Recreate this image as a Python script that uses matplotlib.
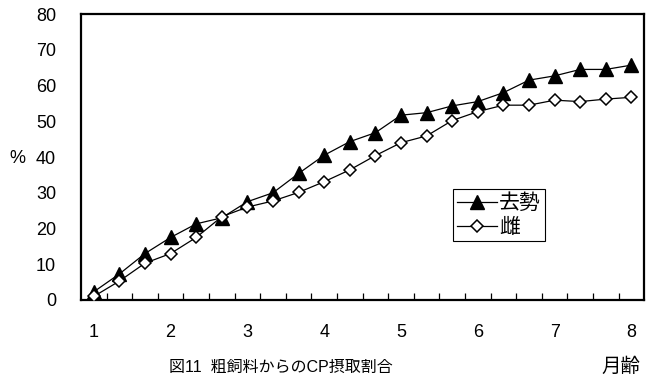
import numpy as np
import matplotlib
matplotlib.use("Agg")
import matplotlib.pyplot as plt

plt.rcParams['font.family'] = ['Liberation Sans', 'Noto Sans CJK JP']

# 月齢 (1/3ヶ月ごと)
meses = ["1", "", "", "2", "", "", "3", "", "", "4", "", "", "5", "", "", "6", "", "", "7", "", "", "8"]
kyosei = [2.3, 7.3, 13.0, 17.5, 21.3, 23.0, 27.5, 30.0, 35.4, 40.5, 44.3, 46.8,
          51.7, 52.4, 54.3, 55.5, 58.0, 61.5, 62.7, 64.5, 64.5, 65.7]
mesu = [1.0, 5.3, 10.3, 13.0, 17.5, 23.3, 26.0, 27.7, 30.1, 33.1, 36.4, 40.4,
        44.0, 45.9, 50.2, 52.7, 54.5, 54.5, 55.9, 55.5, 56.2, 56.7]

x = np.arange(len(meses))

fig = plt.figure(figsize=(6.56, 3.86), dpi=100)
ax = fig.add_axes([0.1235, 0.2228, 0.8585, 0.7409])

ax.plot(x, kyosei, color="black", lw=0.9, marker="^", ms=9.5,
        markerfacecolor="black", markeredgecolor="black", label="去勢", zorder=3)
ax.plot(x, mesu, color="black", lw=0.9, marker="D", ms=6,
        markerfacecolor="white", markeredgecolor="black", markeredgewidth=1.1,
        label="雌", zorder=4)

ax.set_xlim(-0.5, len(meses) - 0.5)
ax.set_ylim(0, 80)
ax.set_yticks(np.arange(0, 81, 10))
ax.tick_params(axis="y", length=0, pad=18, labelsize=13)

ax.set_xticks(x[::3])
ax.set_xticklabels([m for m in meses if m])
ax.set_xticks(np.arange(0.5, len(meses) - 1, 1), minor=True)
ax.tick_params(axis="x", which="major", length=0, pad=17, labelsize=13)
ax.tick_params(axis="x", which="minor", direction="in", length=5, width=0.9)

for s in ax.spines.values():
    s.set_linewidth(1.6)

leg = ax.legend(loc="upper left", bbox_to_anchor=(0.661, 0.388), fontsize=15,
                frameon=True, fancybox=False, edgecolor="black", framealpha=1,
                handlelength=1.9, borderpad=0.2, labelspacing=0.25,
                handletextpad=0.1, borderaxespad=0)
leg.get_frame().set_linewidth(0.8)

fig.text(0.015, 0.59, "%", fontsize=13, va="center", ha="left")
fig.text(0.428, 0.049, "図11  粗飼料からのCP摂取割合", fontsize=11.5, ha="center", va="center")
fig.text(0.947, 0.049, "月齢", fontsize=14, ha="center", va="center")

fig.savefig("out.png", dpi=100)
